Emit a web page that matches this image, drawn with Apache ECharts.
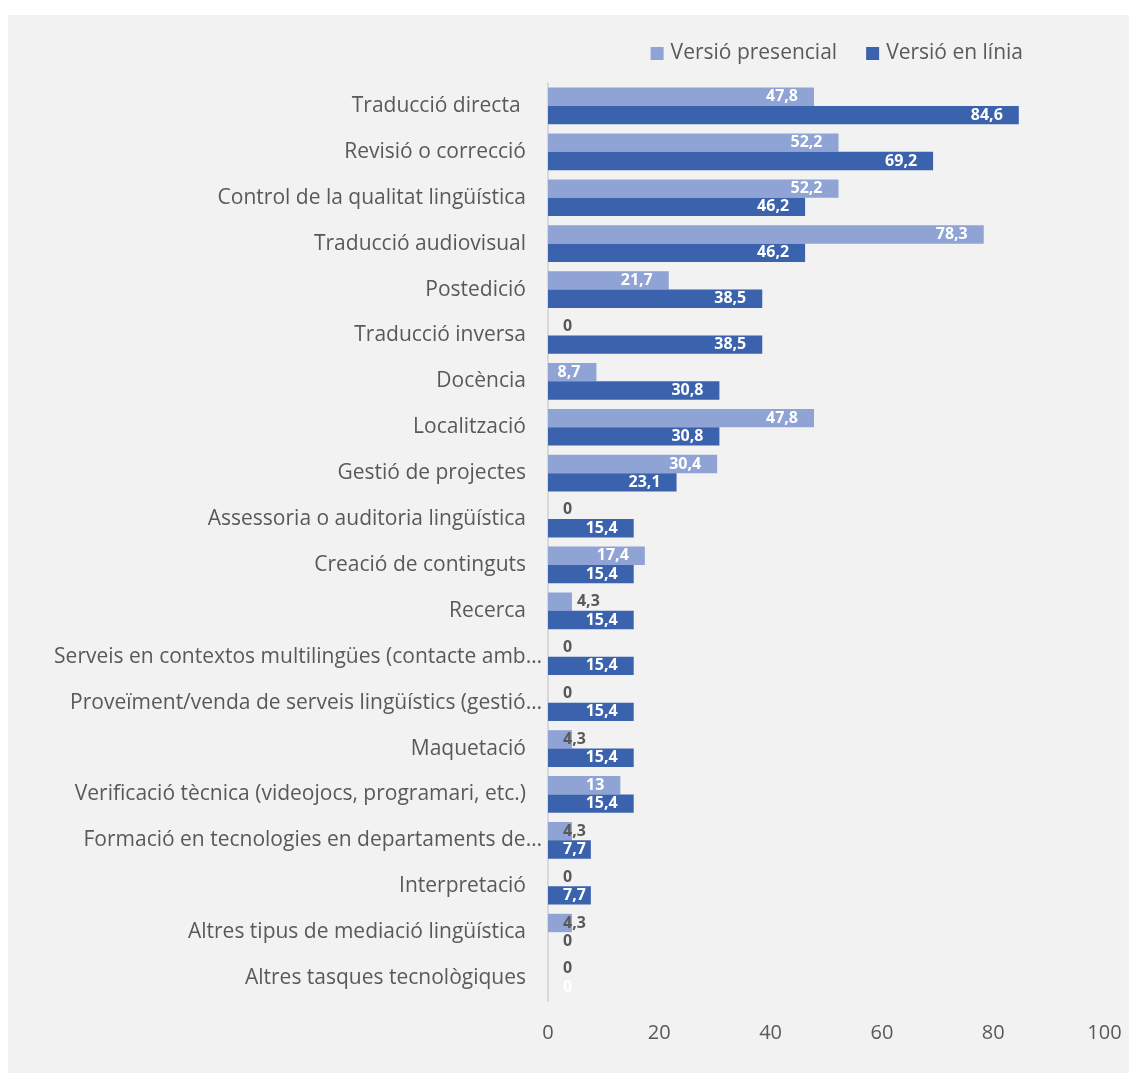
<!DOCTYPE html>
<html>
<head>
<meta charset="utf-8">
<script src="https://cdn.jsdelivr.net/npm/echarts@6/dist/echarts.min.js"></script>
<style>
  html, body { margin: 0; padding: 0; background: #ffffff; width: 1129px; height: 1073px; overflow: hidden; }
  #chart { position: absolute; left: 8px; top: 15px; width: 1121px; height: 1058px; }
</style>
</head>
<body>
<div id="chart"></div>
<script>
// Tasks, top to bottom
const categories = [
  'Traducció directa ',
  'Revisió o correcció',
  'Control de la qualitat lingüística',
  'Traducció audiovisual',
  'Postedició',
  'Traducció inversa',
  'Docència',
  'Localització',
  'Gestió de projectes',
  'Assessoria o auditoria lingüística',
  'Creació de continguts',
  'Recerca',
  'Serveis en contextos multilingües (contacte amb…',
  'Proveïment/venda de serveis lingüístics (gestió…',
  'Maquetació',
  'Verificació tècnica (videojocs, programari, etc.)',
  'Formació en tecnologies en departaments de…',
  'Interpretació',
  'Altres tipus de mediació lingüística',
  'Altres tasques tecnològiques'
];

// Percentages per version
const presencial = [47.8, 52.2, 52.2, 78.3, 21.7, 0, 8.7, 47.8, 30.4, 0, 17.4, 4.3, 0, 0, 4.3, 13, 4.3, 0, 4.3, 0];
const enLinia    = [84.6, 69.2, 46.2, 46.2, 38.5, 38.5, 30.8, 30.8, 23.1, 15.4, 15.4, 15.4, 15.4, 15.4, 15.4, 15.4, 7.7, 7.7, 0, 0];

const seriesNames = ['Versió presencial', 'Versió en línia'];
const xTicks = [0, 20, 40, 60, 80, 100];

const LIGHT = '#8fa3d5';
const DARK = '#3b62ad';
const TEXT = '#595959';

const fmt = v => String(v).replace('.', ',');

// Short bars: value starts just past the axis; the tiniest ones print in grey
function makeData(values, seriesIdx) {
  return values.map((v, i) => {
    const item = { value: v };
    if (v < 8) {
      const lastRowDark = seriesIdx === 1 && i === values.length - 1;
      const afterBar = seriesIdx === 0 && categories[i] === 'Recerca';
      item.label = {
        position: afterBar ? 'right' : 'insideLeft',
        distance: afterBar ? 5 : 15,
        color: (v < 5 && !lastRowDark) ? TEXT : '#ffffff'
      };
    }
    return item;
  });
}

const valueLabel = {
  show: true,
  position: 'insideRight',
  distance: 16,
  formatter: p => fmt(p.value),
  fontFamily: 'Open Sans',
  fontWeight: 'bold',
  fontSize: 16,
  color: '#ffffff'
};

const chart = echarts.init(document.getElementById('chart'));
chart.setOption({
  backgroundColor: '#f2f2f2',
  animation: false,
  legend: {
    data: seriesNames,
    right: 101,
    top: 23,
    icon: 'rect',
    itemWidth: 13,
    itemHeight: 13,
    itemGap: 29,
    itemStyle: { borderWidth: 0 },
    textStyle: { fontFamily: 'Open Sans', fontSize: 21, color: TEXT, padding: [0, 0, 0, 2] }
  },
  grid: { left: 540, right: 24.5, top: 68, bottom: 72 },
  xAxis: {
    type: 'value',
    min: xTicks[0],
    max: xTicks[xTicks.length - 1],
    interval: xTicks[1] - xTicks[0],
    axisLine: { show: false },
    axisTick: { show: false },
    splitLine: { show: false },
    axisLabel: { fontFamily: 'Open Sans', fontSize: 20, color: TEXT, margin: 22 }
  },
  yAxis: {
    type: 'category',
    data: categories,
    inverse: true,
    axisTick: { show: false },
    axisLine: { lineStyle: { color: '#d9d9d9', width: 2 } },
    axisLabel: {
      margin: 6,
      formatter: name => name.endsWith('…') ? '{e|' + name + '}' : '{n|' + name + '}',
      rich: {
        n: { fontFamily: 'Open Sans', fontSize: 21, color: TEXT, padding: [0, 16, 0, 0] },
        e: { fontFamily: 'Open Sans', fontSize: 21, color: TEXT }
      }
    }
  },
  series: [
    {
      name: seriesNames[0],
      type: 'bar',
      data: makeData(presencial, 0),
      itemStyle: { color: LIGHT },
      barGap: '0%',
      barCategoryGap: '20%',
      label: valueLabel
    },
    {
      name: seriesNames[1],
      type: 'bar',
      data: makeData(enLinia, 1),
      itemStyle: { color: DARK },
      barGap: '0%',
      barCategoryGap: '20%',
      label: valueLabel
    }
  ]
});
</script>
</body>
</html>
